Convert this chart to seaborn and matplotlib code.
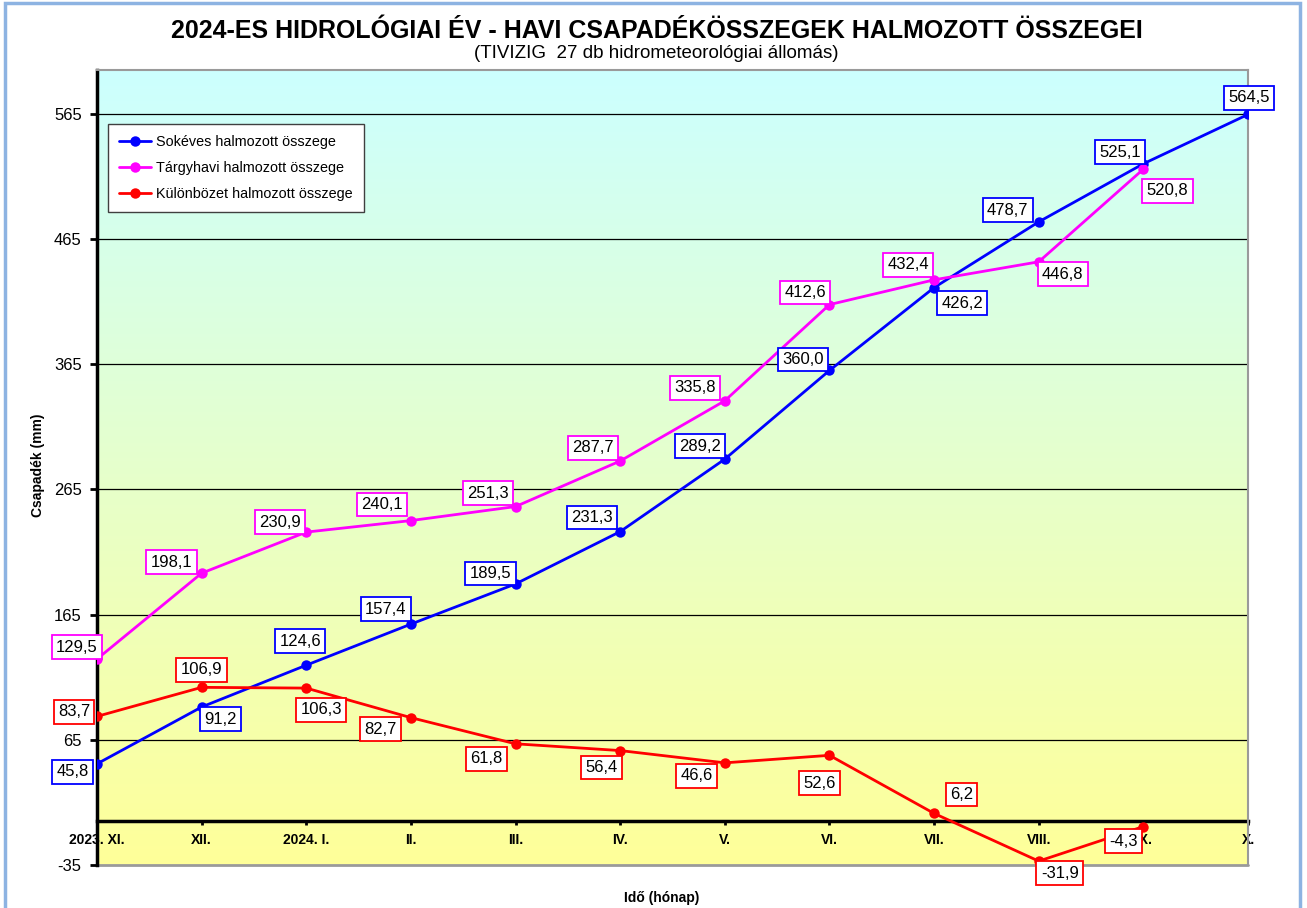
import numpy as np
import pandas as pd
import matplotlib
matplotlib.use("Agg")
import matplotlib.pyplot as plt
import seaborn as sns
from matplotlib.colors import LinearSegmentedColormap
from matplotlib.patches import Rectangle
from matplotlib.lines import Line2D

# ---------------- data ----------------
months = ["2023. XI.", "XII.", "2024. I.", "II.", "III.", "IV.", "V.", "VI.",
          "VII.", "VIII.", "IX.", "X."]
sokeves = [45.8, 91.2, 124.6, 157.4, 189.5, 231.3, 289.2, 360.0, 426.2, 478.7, 525.1, 564.5]
targyhavi = [129.5, 198.1, 230.9, 240.1, 251.3, 287.7, 335.8, 412.6, 432.4, 446.8, 520.8]
kulonbozet = [83.7, 106.9, 106.3, 82.7, 61.8, 56.4, 46.6, 52.6, 6.2, -31.9, -4.3]
series_names = ["Sokéves halmozott összege", "Tárgyhavi halmozott összege",
                "Különbözet halmozott összege"]
yticks = [-35, 65, 165, 265, 365, 465, 565]

# ---------------- style ----------------
colors = ["#0000FF", "#FF00FF", "#FF0000"]
# label offsets (pixels, y up) per series
label_offsets = [
    [(-24.5, -8), (19, -12), (-6, 24), (-25, 15), (-25, 10.5), (-28, 14), (-25, 13),
     (-26.5, 11), (28, -15.5), (-31, 11.6), (-23.5, 11.5), (1, 16.6)],
    [(-20, 12), (-30, 11), (-26, 10), (-29, 16), (-27.5, 13.5), (-27, 13), (-30, 13),
     (-24.5, 12), (-26, 15), (24, -12.4), (24, -21.6)],
    [(-23, 4.7), (0, 17.6), (15, -21.6), (-30, -11.5), (-29, -15), (-19, -17), (-28, -13),
     (-10, -28), (27.5, 19), (21, -12), (-20, -14.5)],
]

sns.set_theme(style="white")
plt.rcParams["font.family"] = ["Liberation Sans", "DejaVu Sans"]

W, H = 1307, 908
fig = plt.figure(figsize=(W / 100, H / 100), dpi=100)
L, R, T, B = 97, 1248, 70, 865
ax = fig.add_axes([L / W, 1 - B / H, (R - L) / W, (B - T) / H])

# background gradient
cmap = LinearSegmentedColormap.from_list("bg", ["#FFFF99", "#CCFFFF"])
grad = np.linspace(0, 1, 256).reshape(-1, 1)
ax.imshow(grad, cmap=cmap, aspect="auto", extent=[0, 1, 0, 1],
          transform=ax.transAxes, origin="lower", zorder=0)

# long-form data
all_series = [sokeves, targyhavi, kulonbozet]
frames = []
for name, vals in zip(series_names, all_series):
    frames.append(pd.DataFrame({"pos": np.arange(len(vals)), "value": vals, "series": name}))
df = pd.concat(frames, ignore_index=True)

sns.lineplot(data=df, x="pos", y="value", hue="series", hue_order=series_names,
             palette=colors, marker="o", markersize=7.5, markeredgewidth=0,
             linewidth=2.0, ax=ax, legend=True, zorder=3, sort=False)

# data labels
for vals, col, offs in zip(all_series, colors, label_offsets):
    for i, (v, (dx, dy)) in enumerate(zip(vals, offs)):
        ax.annotate(f"{v:.1f}".replace(".", ","), xy=(i, v), xytext=(dx, dy),
                    textcoords="offset pixels", ha="center", va="center",
                    fontsize=12, color="black", zorder=5, annotation_clip=False,
                    bbox=dict(boxstyle="square,pad=0.26", fc="white", ec=col, lw=1.3))

# spines first (set_position resets tick properties)
ax.spines["left"].set_color("black")
ax.spines["left"].set_linewidth(2.5)
ax.spines["bottom"].set_position(("data", 0))
ax.spines["bottom"].set_color("black")
ax.spines["bottom"].set_linewidth(2.5)
ax.spines["bottom"].set_zorder(2)
for s in ["top", "right"]:
    ax.spines[s].set_color("#9A9A9A")
    ax.spines[s].set_linewidth(1.5)
ax.add_line(Line2D([0, 1], [0, 0], transform=ax.transAxes, color="#9A9A9A",
                   lw=2.0, clip_on=False, zorder=2))

# axes
ax.set_xlim(0, 11)
ax.set_ylim(-35, 600)
ax.set_yticks(yticks)
ax.set_yticklabels([str(t) for t in yticks], fontsize=12, color="black")
ax.set_xticks(range(len(months)))
ax.set_xticklabels(months, fontsize=10, fontweight="bold", color="black")
ax.grid(False)
for t in yticks[1:]:
    ax.axhline(t, color="black", lw=0.9, zorder=1)

ax.tick_params(axis="y", direction="out", length=5, width=2, color="black", pad=6, left=True)
ax.tick_params(axis="x", direction="out", length=3, width=2, color="black", pad=5.5, bottom=True)

ax.set_xlabel("")
ax.set_ylabel("")
fig.text(38 / W, 1 - 465 / H, "Csapadék (mm)", rotation=90, ha="center", va="center",
         fontsize=10, fontweight="bold", color="black")
fig.text(662 / W, 1 - 898 / H, "Idő (hónap)", ha="center", va="center",
         fontsize=10, fontweight="bold", color="black")

# legend
handles, labels = ax.get_legend_handles_labels()
leg = ax.legend(handles, labels, loc="upper left",
                bbox_to_anchor=(11 / (R - L), (B - 124) / (B - T)),
                fontsize=10.4, frameon=True, fancybox=False, edgecolor="#404040",
                framealpha=1, facecolor="white", handlelength=2.2, labelspacing=0.85,
                borderpad=0.75, handletextpad=0.4, borderaxespad=0)
leg.get_frame().set_linewidth(1.0)
for txt in leg.get_texts():
    txt.set_color("black")

# titles
fig.text(657 / W, 1 - 31 / H, "2024-ES HIDROLÓGIAI ÉV - HAVI CSAPADÉKÖSSZEGEK HALMOZOTT ÖSSZEGEI",
         ha="center", va="center", fontsize=18, fontweight="bold", color="black")
fig.text(656 / W, 1 - 53 / H, "(TIVIZIG  27 db hidrometeorológiai állomás)",
         ha="center", va="center", fontsize=13.5, color="black")

# outer frame
fig.add_artist(Rectangle((5 / W, -0.05), (1300 - 5) / W, 1.05 - 3 / H,
                         transform=fig.transFigure, fill=False, ec="#8DB3E2", lw=2.5))

fig.savefig("out.png", dpi=100)
